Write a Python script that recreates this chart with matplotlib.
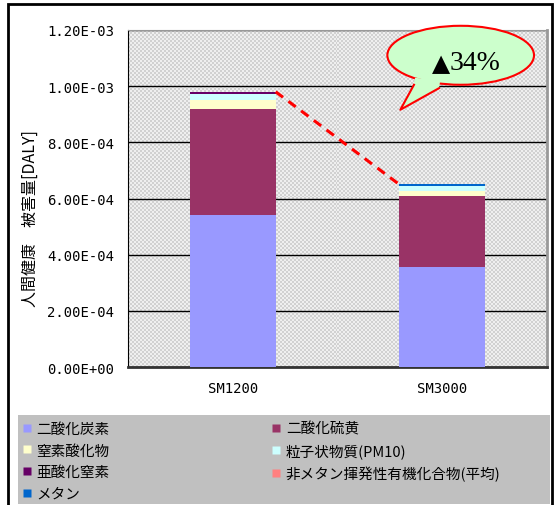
import numpy as np
import matplotlib.pyplot as plt
from matplotlib.patches import Ellipse, Polygon, Rectangle
from matplotlib.lines import Line2D
from matplotlib.ticker import FuncFormatter

plt.rcParams['font.family'] = ['Noto Sans CJK JP', 'DejaVu Sans']

# DALY per emission category, stacked bottom to top
models = ['SM1200', 'SM3000']
co2 = [5.41e-4, 3.56e-4]
so2 = [3.78e-4, 2.54e-4]
nox = [0.32e-4, 0.16e-4]
pm10 = [0.21e-4, 0.17e-4]
n2o = [0.07e-4, 0.005e-4]
nmvoc = [0.005e-4, 0.005e-4]
ch4 = [0.005e-4, 0.06e-4]

series = [
    ('二酸化炭素', co2, '#9999ff'),
    ('二酸化硫黄', so2, '#993366'),
    ('窒素酸化物', nox, '#ffffcc'),
    ('粒子状物質(PM10)', pm10, '#ccffff'),
    ('亜酸化窒素', n2o, '#660066'),
    ('非メタン揮発性有機化合物(平均)', nmvoc, '#ff8080'),
    ('メタン', ch4, '#0066cc'),
]
yticks = [0, 2e-4, 4e-4, 6e-4, 8e-4, 1.0e-3, 1.2e-3]

W, H = 554, 506
fig = plt.figure(figsize=(W / 100, H / 100), dpi=100)

# outer chart frame and grey legend panel
fig.patches.append(Rectangle((8 / W, -0.01), 544 / W, 1.0 - 5 / H + 0.01,
                             transform=fig.transFigure, fill=False,
                             edgecolor='black', lw=2))
fig.patches.append(Rectangle((18 / W, 1 / H), 532 / W, 89 / H,
                             transform=fig.transFigure, facecolor='#c0c0c0',
                             edgecolor='none'))

ax = fig.add_axes([128 / W, 1 - 368 / H, 419 / W, 337 / H])

# checkered plot background
cells = np.indices((169, 210)).sum(axis=0) % 2
bg = np.where(cells[..., None] == 0, [0.82, 0.82, 0.82], [0.94, 0.94, 0.94])
ax.imshow(bg, extent=(0, 1, 0, 1), transform=ax.transAxes, aspect='auto',
          interpolation='nearest', zorder=0)

x = np.arange(len(models))
width = 0.41
bottom = np.zeros(len(models))
for name, vals, color in series:
    ax.bar(x, vals, width, bottom=bottom, color=color, label=name, zorder=3)
    bottom += np.array(vals)
totals = bottom

ax.set_xlim(-0.5, 1.5)
ax.set_ylim(0, 1.2e-3)
ax.set_yticks(yticks)
ax.yaxis.set_major_formatter(FuncFormatter(lambda v, p: f'{v:.2E}'))
ax.set_xticks(x)
ax.set_xticklabels(models)
ax.tick_params(length=0)
ax.tick_params(axis='y', pad=10)
ax.tick_params(axis='x', pad=10)
for lab in ax.get_xticklabels() + ax.get_yticklabels():
    lab.set_family('DejaVu Sans Mono')
    lab.set_fontsize(10)
ax.grid(axis='y', color='black', lw=1, zorder=1)
ax.set_ylabel('人間健康　被害量[DALY]', fontsize=11.5)
ax.yaxis.set_label_coords(-0.213, 0.442)

ax.spines['left'].set_color('black')
ax.spines['bottom'].set_color('#333333')
ax.spines['bottom'].set_linewidth(2)
ax.spines['top'].set_color('#999999')
ax.spines['right'].set_color('#999999')
ax.spines['right'].set_linewidth(2)

# dashed line joining the two totals
ax.plot([x[0] + width / 2, x[1] - width / 2], [totals[0], totals[1]],
        color='red', ls=(0, (3, 2.2)), lw=2.2, zorder=4)

# speech bubble with the reduction rate
pct = round((1 - totals[1] / totals[0]) * 100)
ex, ey, ew, eh = 1.088, 1.11e-3, 0.70, 0.21e-3
ell = Ellipse((ex, ey), ew, eh, facecolor='#ccffcc', edgecolor='red',
              lw=1.5, zorder=6, clip_on=False)
ax.add_patch(ell)
tip = (0.80, 0.916e-3)
b1 = (0.865, 1.005e-3)
b2 = (0.985, 0.993e-3)
ax.add_patch(Polygon([b1, tip, b2, (0.99, 1.02e-3), (0.87, 1.03e-3)],
                     closed=True, facecolor='#ccffcc', edgecolor='none',
                     zorder=7, clip_on=False))
ax.plot([b1[0], tip[0], b2[0]], [b1[1], tip[1], b2[1]], color='red',
        lw=1.5, zorder=8, clip_on=False)
ax.text(1.035, 1.083e-3, '▲', ha='right', va='center', fontsize=17,
        family='DejaVu Sans', zorder=9)
ax.text(1.035, 1.083e-3, f'{pct}%', ha='left', va='center', fontsize=20,
        family=['Liberation Serif', 'DejaVu Serif'], zorder=9)

# legend, two columns filled row by row
order = [0, 2, 4, 6, 1, 3, 5]
handles = [Line2D([], [], ls='none', marker='s', markersize=6,
                  markerfacecolor=series[i][2], markeredgecolor='none')
           for i in order]
labels = [series[i][0] for i in order]
leg = fig.legend(handles, labels, loc='upper left', ncol=2,
                 bbox_to_anchor=(18 / W, 1 - 419 / H),
                 fontsize=10.5, frameon=False,
                 handlelength=0.7, handletextpad=0.3, labelspacing=0.52,
                 columnspacing=11.1, borderpad=0.25, borderaxespad=0)

fig.savefig('out.png', dpi=100)
